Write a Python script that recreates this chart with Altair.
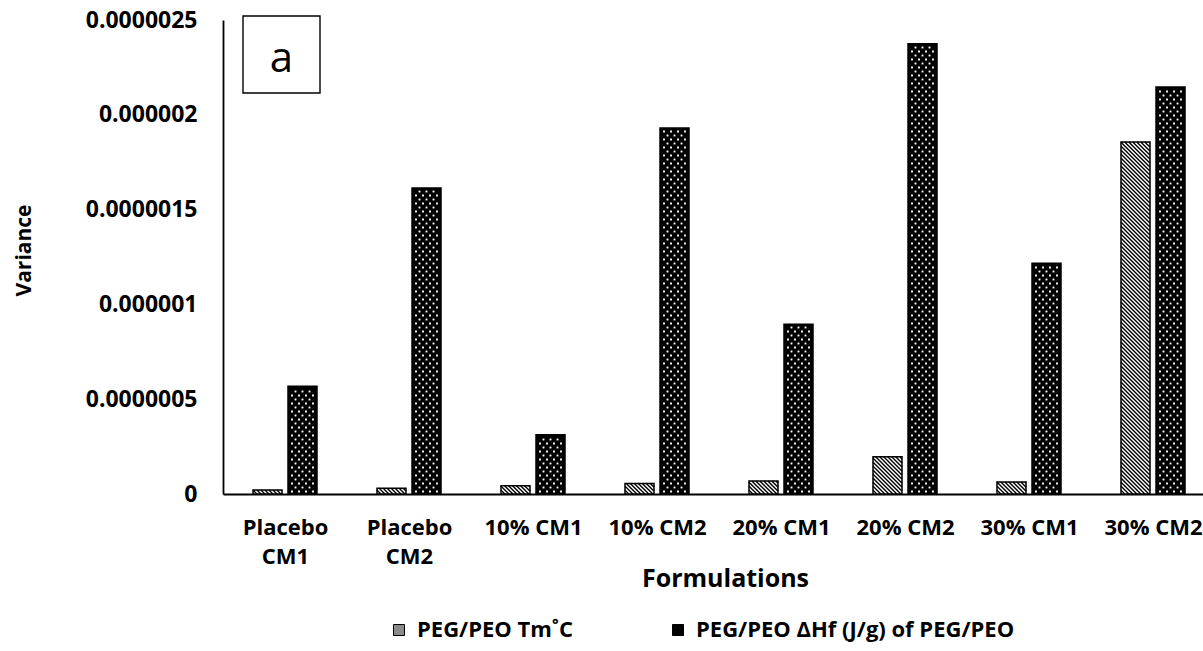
import json

import altair as alt
import pandas as pd

# ---- data -------------------------------------------------------------
categories = ["Placebo CM1", "Placebo CM2", "10% CM1", "10% CM2",
              "20% CM1", "20% CM2", "30% CM1", "30% CM2"]
tm_variance = [0.021e-6, 0.030e-6, 0.044e-6, 0.056e-6,
               0.068e-6, 0.196e-6, 0.063e-6, 1.856e-6]
dhf_variance = [0.568e-6, 1.614e-6, 0.312e-6, 1.930e-6,
                0.895e-6, 2.375e-6, 1.217e-6, 2.147e-6]
series_names = ["PEG/PEO Tm˚C", "PEG/PEO ΔHf (J/g) of PEG/PEO"]
y_ticks = [0, 0.5e-6, 1.0e-6, 1.5e-6, 2.0e-6, 2.5e-6]
panel_tag = ["a"]

TM, DHF = series_names

records = []
for i, cat in enumerate(categories):
    records.append({"idx": i, "cat": cat, "series": TM, "value": tm_variance[i]})
    records.append({"idx": i, "cat": cat, "series": DHF, "value": dhf_variance[i]})
df = pd.DataFrame(records)

# ---- layout -----------------------------------------------------------
STEP = 124            # px per category group
PLOT_W = 980
PLOT_H = 474
Y_MAX = 2.5e-6
PX_Y = PLOT_H / Y_MAX  # px per unit of variance
BAR_W = 29
X_MIN = -0.5
X_MAX = X_MIN + PLOT_W / STEP

FONT = "Open Sans"
cats_js = json.dumps(categories)

bar_geom = dict(
    x0=f"datum.series == '{TM}' ? -32 : 3",
    xa=f"datum.idx + datum.x0 / {STEP}",
    xb=f"datum.idx + (datum.x0 + {BAR_W}) / {STEP}",
    h=f"datum.value * {PX_Y}",
)

x_scale = alt.Scale(domain=[X_MIN, X_MAX], nice=False, zero=False)
y_scale = alt.Scale(domain=[0, Y_MAX], nice=False)

x_axis = alt.Axis(
    title="Formulations",
    values=list(range(len(categories))),
    labelExpr=(f"indexof({cats_js}[datum.value], 'Placebo') == 0 ? "
               f"split({cats_js}[datum.value], ' ') : {cats_js}[datum.value]"),
    labelFont=FONT, labelFontWeight="bold", labelFontSize=22, labelColor="black",
    labelBaseline="top", labelAlign="center", labelPadding=23, labelLineHeight=29,
    labelFlush=False, labelOverlap=False, labelBound=False,
    ticks=False, grid=False, domainColor="black", domainWidth=1.8,
    titleFont=FONT, titleFontWeight="bold", titleFontSize=25, titleColor="black",
    titleX=502, titleY=84, titleBaseline="middle", titleAlign="center",
)
y_axis = alt.Axis(
    title="Variance",
    values=y_ticks, format=".7~f",
    labelFont=FONT, labelFontWeight="bold", labelFontSize=23, labelColor="black",
    labelPadding=26,
    ticks=False, grid=False, domainColor="black", domainWidth=1.8,
    titleFont=FONT, titleFontWeight="bold", titleFontSize=21, titleColor="black",
    titleX=-199, titleY=230, titleAngle=270, titleBaseline="middle", titleAlign="center",
)


def xq(field):
    return alt.X(f"{field}:Q", scale=x_scale, axis=x_axis)


def yq(field):
    return alt.Y(f"{field}:Q", scale=y_scale, axis=y_axis)


base = alt.Chart(df).transform_calculate(**bar_geom)

# solid fill underneath the textures (also drives the legend)
bars = base.mark_rect().encode(
    x=xq("xa"),
    x2="xb",
    y=yq("value"),
    y2=alt.datum(0),
    color=alt.Color(
        "series:N",
        scale=alt.Scale(domain=series_names, range=["#8a8a8a", "#000000"]),
        legend=alt.Legend(
            title=None, orient="none", legendX=165, legendY=599,
            direction="horizontal", symbolType="square", symbolSize=121,
            symbolStrokeColor="black", symbolStrokeWidth=1,
            labelFont=FONT, labelFontWeight="bold", labelFontSize=22,
            labelColor="black", labelOffset=7, columnPadding=93,
            padding=0, labelLimit=700,
        ),
    ),
)

# diagonal hatching for the Tm bars: alternating black / white 45° strokes
hatch = base.transform_filter(
    alt.datum.series == TM
).transform_calculate(
    ks=f"sequence(0, ceil((datum.h + {BAR_W}) / 2) + 2)"
).transform_flatten(
    ["ks"], as_=["k"]
).transform_calculate(
    c="datum.k * 2",
).transform_calculate(
    ua="max(0, datum.c - datum.h)",
    ub=f"min({BAR_W}, datum.c)",
).transform_filter(
    "datum.ua < datum.ub"
).transform_calculate(
    hx1=f"datum.idx + (datum.x0 + datum.ua) / {STEP}",
    hx2=f"datum.idx + (datum.x0 + datum.ub) / {STEP}",
    hy1=f"(datum.c - datum.ua) / {PX_Y}",
    hy2=f"(datum.c - datum.ub) / {PX_Y}",
).mark_rule(strokeWidth=1.5).encode(
    x=xq("hx1"),
    x2="hx2",
    y=yq("hy1"),
    y2="hy2",
    color=alt.condition("datum.k % 2 == 0", alt.value("black"), alt.value("white")),
)

# white dot lattice for the ΔHf bars
dots = base.transform_filter(
    alt.datum.series == DHF
).transform_calculate(
    rs="sequence(0, floor((datum.h - 1) / 4))"
).transform_flatten(
    ["rs"], as_=["r"]
).transform_calculate(
    cs="sequence(0, 4)"
).transform_flatten(
    ["cs"], as_=["c"]
).transform_calculate(
    ux="4 + datum.c * 7 + (datum.r % 2) * 3.5",
).transform_filter(
    "datum.ux <= 26"
).transform_calculate(
    dx_=f"datum.idx + (datum.x0 + datum.ux) / {STEP}",
    dy_=f"(2.5 + datum.r * 4) / {PX_Y}",
).mark_square(size=3.5, color="white", opacity=1, strokeWidth=0).encode(
    x=xq("dx_"),
    y=yq("dy_"),
)

# bar outlines on top
outline = base.mark_rect(fillOpacity=0, stroke="black", strokeWidth=1.5).encode(
    x=xq("xa"),
    x2="xb",
    y=yq("value"),
    y2=alt.datum(0),
)

# panel tag box
tag_df = pd.DataFrame({"tag": panel_tag})
tag_box = alt.Chart(tag_df).mark_rect(fill="white", stroke="black", strokeWidth=1.4).encode(
    x=alt.value(20), x2=alt.value(97), y=alt.value(-4), y2=alt.value(73),
)
tag_text = alt.Chart(tag_df).mark_text(
    font=FONT, fontSize=42, color="black",
    align="center", baseline="alphabetic",
).encode(x=alt.value(58.5), y=alt.value(52), text="tag:N")

chart = alt.layer(bars, hatch, dots, outline, tag_box, tag_text).properties(
    width=PLOT_W, height=PLOT_H,
    autosize=alt.AutoSizeParams(type="none"),
    padding={"left": 223, "top": 20, "right": 0, "bottom": 157},
    background="white",
).configure_view(strokeWidth=0)

chart.save("out.html", embed_options={"renderer": "svg", "actions": False})
